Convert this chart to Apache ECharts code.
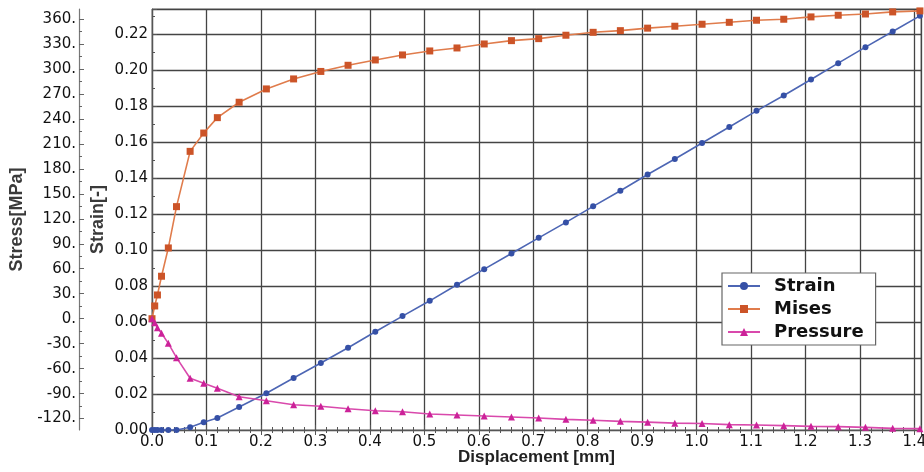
<!DOCTYPE html>
<html>
<head>
<meta charset="utf-8">
<script src="https://cdn.jsdelivr.net/npm/echarts@6/dist/echarts.min.js"></script>
<style>
html,body{margin:0;padding:0;background:#fff;}
#c{width:924px;height:472px;}
</style>
</head>
<body>
<div id="c"></div>
<script>
// Displacement [mm]
const displacement = [0, 0.005, 0.01, 0.0175, 0.03, 0.045, 0.07, 0.095, 0.12,
  0.16, 0.21, 0.26, 0.31, 0.36, 0.41, 0.46, 0.51, 0.56, 0.61, 0.66, 0.71, 0.76,
  0.81, 0.86, 0.91, 0.96, 1.01, 1.06, 1.11, 1.16, 1.21, 1.26, 1.31, 1.36, 1.41];
// Strain [-]
const strain = [0, 0, 0, 0, 0, 0, 0.0015, 0.0043, 0.0067,
  0.0128, 0.0204, 0.0289, 0.0372, 0.0457, 0.0546, 0.0633, 0.0718, 0.0807, 0.0894, 0.0981, 0.1068, 0.1154,
  0.1243, 0.1330, 0.1420, 0.1506, 0.1595, 0.1684, 0.1774, 0.1859, 0.1948, 0.2039, 0.2128, 0.2215, 0.2302];
// Mises stress [MPa]
const mises = [0, 15.3, 28.5, 51, 85, 134.6, 201, 223, 241.5,
  260, 276, 288, 297, 304.4, 310.8, 316.8, 321.6, 325.2, 330, 334, 336.4, 340.5,
  344, 346, 349, 351.3, 353.7, 356, 358.5, 359.7, 362.5, 364.5, 366, 368.5, 369.7];
// Pressure [MPa]
const pressure = [0, -4.8, -10.8, -17.5, -29.6, -46.8, -71.6, -77.6, -83.6,
  -93.7, -98.5, -103.3, -105.2, -108.1, -110.5, -111.7, -114.5, -115.7, -116.9, -118.1, -119.3, -120.9,
  -122, -123.3, -124.3, -125.5, -125.9, -127.3, -127.7, -128.5, -129.3, -129.7, -130.5, -131.7, -132.1];
// Tick labels
const stressTicks = [-120, -90, -60, -30, 0, 30, 60, 90, 120, 150, 180, 210, 240, 270, 300, 330, 360];
const stressMinorTicks = [-105, -75, -45, -15, 15, 45, 75, 105, 135, 165, 195, 225, 255, 285, 315, 345];
const seriesNames = ['Strain', 'Mises', 'Pressure'];

const toPairs = ys => displacement.map((x, i) => [x, ys[i]]);

const labelFont = 'DejaVu Sans';
const titleFont = 'Liberation Sans';
const gridColor = '#444';

const chart = echarts.init(document.getElementById('c'), null, {renderer: 'canvas'});
const option = {
  animation: false,
  backgroundColor: '#fff',
  grid: {left: 152, top: 9, width: 769, height: 421, outerBoundsMode: 'none', containLabel: false,
    show: true, borderColor: '#888', borderWidth: 1, backgroundColor: 'transparent'},
  legend: {
    data: seriesNames,
    orient: 'vertical',
    left: 722, top: 273,
    backgroundColor: '#fff',
    borderColor: '#666', borderWidth: 1.2,
    padding: [4, 12, 4, 5],
    itemWidth: 32, itemHeight: 10, itemGap: 5,
    textStyle: {fontFamily: labelFont, fontWeight: 'bold', fontSize: 18, color: '#111', padding: [0, 0, 0, 9]}
  },
  xAxis: [{
    type: 'value', min: 0, max: 1.412, interval: 0.1,
    name: 'Displacement [mm]', nameLocation: 'middle', nameGap: 19, nameMoveOverlap: false,
    nameTextStyle: {fontFamily: titleFont, fontWeight: 'bold', fontSize: 17, color: '#222'},
    axisLine: {show: true, onZero: false, lineStyle: {color: '#555', width: 1.2}},
    axisTick: {show: true, inside: true, length: 5, lineStyle: {color: '#555'}},
    minorTick: {show: true, splitNumber: 5, length: 3, lineStyle: {color: '#555'}},
    axisLabel: {fontFamily: labelFont, fontSize: 15, color: '#111', margin: 5, showMaxLabel: false,
      formatter: v => v.toFixed(1)},
    splitLine: {show: true, lineStyle: {color: gridColor, width: 1.3}}
  }, {
    type: 'value', min: 0, max: 1.412, interval: 0.1, position: 'top',
    axisLine: {show: false},
    axisTick: {show: true, inside: true, length: 5, lineStyle: {color: '#555'}},
    minorTick: {show: true, splitNumber: 5, length: 3, lineStyle: {color: '#555'}},
    axisLabel: {show: false},
    splitLine: {show: false}
  }],
  yAxis: [{
    type: 'value', min: 0, max: 0.234, interval: 0.02, position: 'left',
    name: 'Strain[-]', nameLocation: 'middle', nameGap: 45, nameMoveOverlap: false,
    nameTextStyle: {fontFamily: titleFont, fontWeight: 'bold', fontSize: 18, color: '#3a3a3a'},
    axisLine: {show: true, onZero: false, lineStyle: {color: '#555', width: 1.2}},
    axisTick: {show: true, inside: true, length: 5, lineStyle: {color: '#555'}},
    minorTick: {show: true, splitNumber: 2, length: 3, lineStyle: {color: '#555'}},
    axisLabel: {fontFamily: labelFont, fontSize: 15, color: '#111', margin: 4, showMaxLabel: false,
      formatter: v => v.toFixed(2)},
    splitLine: {show: true, lineStyle: {color: gridColor, width: 1.3}}
  }, {
    type: 'value', min: -133.7, max: 372, position: 'left', offset: 73,
    name: 'Stress[MPa]', nameLocation: 'middle', nameGap: 53, nameMoveOverlap: false,
    nameTextStyle: {fontFamily: titleFont, fontWeight: 'bold', fontSize: 18, color: '#3a3a3a'},
    axisLine: {show: true, onZero: false, lineStyle: {color: '#777', width: 1.2}},
    axisTick: {show: true, inside: true, length: 5, customValues: stressTicks, lineStyle: {color: '#666'}},
    axisLabel: {fontFamily: labelFont, fontSize: 15, color: '#111', margin: 3, customValues: stressTicks,
      formatter: v => v + '.'},
    splitLine: {show: false}
  }, {
    type: 'value', min: -133.7, max: 372, position: 'left', offset: 73,
    axisLine: {show: false, onZero: false},
    axisTick: {show: true, inside: true, length: 3, customValues: stressMinorTicks, lineStyle: {color: '#666'}},
    axisLabel: {show: false},
    splitLine: {show: false}
  }],
  series: [{
    name: 'Strain', type: 'line', xAxisIndex: 0, yAxisIndex: 0,
    data: toPairs(strain),
    symbol: 'circle', symbolSize: 6,
    itemStyle: {color: '#3550a6'},
    lineStyle: {color: '#4d66b4', width: 1.6}
  }, {
    name: 'Mises', type: 'line', xAxisIndex: 0, yAxisIndex: 1,
    data: toPairs(mises),
    symbol: 'rect', symbolSize: 7,
    itemStyle: {color: '#cc5428'},
    lineStyle: {color: '#e07c4c', width: 1.6}
  }, {
    name: 'Pressure', type: 'line', xAxisIndex: 0, yAxisIndex: 1,
    data: toPairs(pressure),
    symbol: 'triangle', symbolSize: 7,
    itemStyle: {color: '#cc2299'},
    lineStyle: {color: '#d949ac', width: 1.6}
  }]
};
chart.setOption(option);
</script>
</body>
</html>
